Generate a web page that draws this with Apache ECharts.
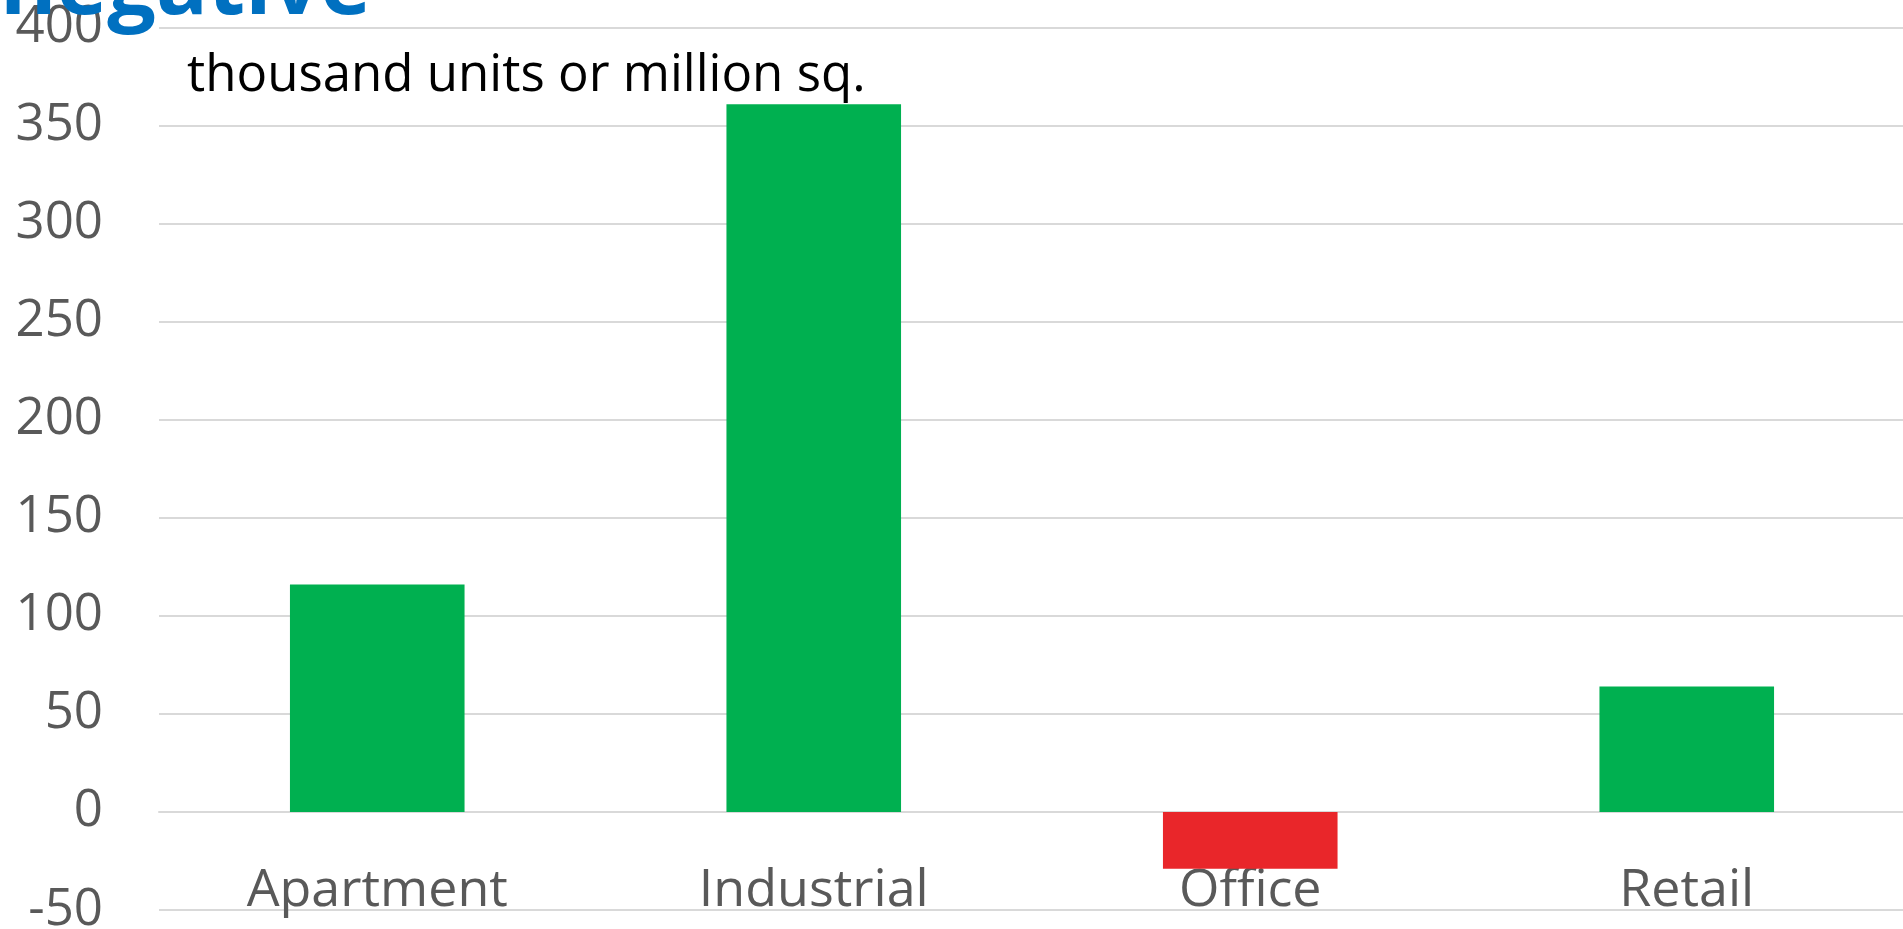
<!DOCTYPE html>
<html>
<head>
<meta charset="utf-8">
<title>Net absorption</title>
<script src="https://cdn.jsdelivr.net/npm/echarts@6/dist/echarts.min.js"></script>
<style>
  html, body { margin: 0; padding: 0; background: #ffffff; }
  #chart { width: 1903px; height: 929px; }
</style>
</head>
<body>
<div id="chart"></div>
<script>
// Property sectors and their net absorption (thousand units or million sq. ft)
const categories = ['Apartment', 'Industrial', 'Office', 'Retail'];
const absorption = [116, 361, -29, 64];
const yTicks = { min: -50, max: 400, step: 50 };

const GREEN = '#00B050';
const RED = '#E9262A';
const FONT = '"Open Sans", "Liberation Sans", sans-serif';

const chart = echarts.init(document.getElementById('chart'), null, { renderer: 'canvas' });

chart.setOption({
  backgroundColor: '#ffffff',
  animation: false,
  grid: {
    left: 159, right: -2, top: 27.7, bottom: 19,
    containLabel: false,
    outerBoundsMode: 'none'
  },
  xAxis: {
    type: 'category',
    data: categories,
    axisLine: { onZero: true, lineStyle: { color: '#d9d9d9', width: 2 } },
    axisTick: { show: false },
    // category names sit just under the zero line, above the -50 gridline
    axisLabel: { color: '#595959', fontSize: 52, fontFamily: FONT, margin: -45 },
    splitLine: { show: false }
  },
  yAxis: {
    type: 'value',
    min: yTicks.min,
    max: yTicks.max,
    interval: yTicks.step,
    axisLine: { show: false },
    axisTick: { show: false },
    axisLabel: { color: '#595959', fontSize: 51, fontFamily: FONT, margin: 56 },
    splitLine: { lineStyle: { color: '#d9d9d9', width: 2 } }
  },
  series: [{
    type: 'bar',
    barCategoryGap: '60%',
    data: absorption.map(v => ({
      value: v,
      itemStyle: { color: v < 0 ? RED : GREEN }
    }))
  }],
  graphic: [
    {
      type: 'text',
      left: 0,
      top: -54,
      z: 10,
      style: {
        text: 'negative',
        font: 'bold 86px ' + FONT,
        fill: '#0070C0'
      }
    },
    {
      type: 'text',
      x: 187,
      y: 76,
      z: 10,
      style: {
        text: 'thousand units or million sq.',
        font: '51px ' + FONT,
        fill: '#000000',
        verticalAlign: 'middle'
      }
    }
  ]
});
</script>
</body>
</html>
